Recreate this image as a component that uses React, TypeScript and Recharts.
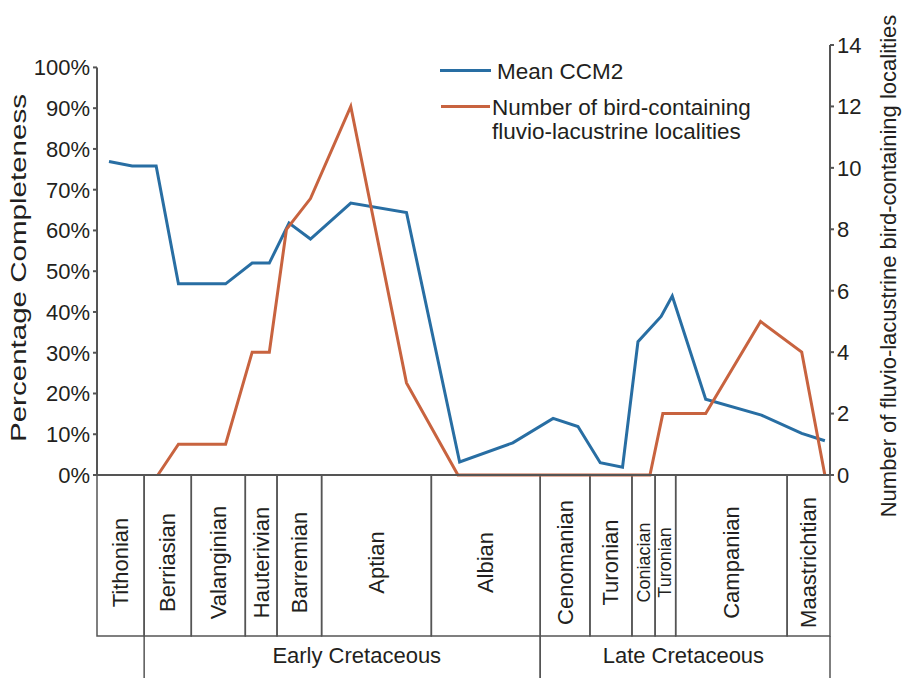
import React from 'react';
import {
  LineChart,
  Line,
  XAxis,
  YAxis,
  ReferenceArea,
  ReferenceLine,
  Legend,
} from 'recharts';

// Mean CCM2 (percentage completeness) through time, ages in Ma
const ccmAges = [149.6, 146.9, 144.1, 141.5, 136.0, 132.9, 130.9, 128.6, 126.1, 121.4, 114.9, 108.7, 102.5, 97.8, 94.9, 92.3, 89.7, 87.9, 85.2, 83.9, 80.0, 73.5, 68.8, 66.1];
const ccmPercent = [76.9, 75.8, 75.8, 46.9, 46.9, 52, 52, 61.8, 57.9, 66.7, 64.4, 3.2, 7.9, 13.9, 11.9, 3.0, 1.9, 32.7, 38.9, 43.9, 18.6, 14.7, 10.2, 8.4];

// Number of bird-containing fluvio-lacustrine localities, ages in Ma
const localityAges = [143.9, 141.5, 136.0, 132.9, 130.9, 128.9, 126.1, 121.4, 114.9, 108.9, 86.5, 85.0, 80.0, 73.6, 68.8, 66.1];
const localityCounts = [0, 1, 1, 4, 4, 8, 9, 12, 3, 0, 0, 2, 2, 5, 4, 0];

// Stratigraphic stages (boundaries in Ma, oldest first)
const stageNames = ['Tithonian', 'Berriasian', 'Valanginian', 'Hauterivian', 'Barremian', 'Aptian', 'Albian', 'Cenomanian', 'Turonian', 'Coniacian', 'Turonian', 'Campanian', 'Maastrichtian'];
const stageBounds = [151, 145.5, 140.0, 133.7, 130.0, 124.8, 112.0, 99.3, 93.5, 88.6, 85.9, 83.5, 70.5, 65.5];

// Epochs
const epochNames = ['Early Cretaceous', 'Late Cretaceous'];
const epochStart = [145.5, 99.3];
const epochEnd = [99.3, 65.5];
const epochLabelAge = [120.7, 82.6];

const percentTicks = [0, 0.1, 0.2, 0.3, 0.4, 0.5, 0.6, 0.7, 0.8, 0.9, 1];
const countTicks = [0, 2, 4, 6, 8, 10, 12, 14];

const ccmData = ccmAges.map((age, i) => ({ age, ccm: ccmPercent[i] / 100 }));
const localityData = localityAges.map((age, i) => ({ age, localities: localityCounts[i] }));

const FONT = '"Liberation Sans", Arial, Helvetica, sans-serif';
const BLUE = '#286ea3';
const RED = '#c8633f';
const AXIS = '#555555';
const TEXT = '#231f20';
const STAGE_ROW = 161;
const EPOCH_ROW = 42;

const StageCell = (props: any) => {
  const { x, y, width, height, name } = props;
  const top = y + height;
  const cx = x + width / 2;
  const cy = top + STAGE_ROW / 2 + 7;
  const small = width < 30;
  return (
    <g>
      <rect x={x} y={top} width={width} height={STAGE_ROW} fill="none" stroke={AXIS} strokeWidth={1.5} />
      <text
        x={cx}
        y={cy}
        transform={`rotate(-90 ${cx} ${cy})`}
        textAnchor="middle"
        dominantBaseline="central"
        fontSize={small ? 18 : 22}
        fill={TEXT}
      >
        {name}
      </text>
    </g>
  );
};

const EpochCell = (props: any) => {
  const { x, y, width, height, name, fraction } = props;
  const top = y + height + STAGE_ROW;
  const labelX = x + width * fraction;
  return (
    <g>
      <line x1={x} x2={x} y1={top} y2={top + EPOCH_ROW} stroke={AXIS} strokeWidth={1.5} />
      <line x1={x + width} x2={x + width} y1={top} y2={top + EPOCH_ROW} stroke={AXIS} strokeWidth={1.5} />
      <text x={labelX} y={top + 19.5} textAnchor="middle" dominantBaseline="central" fontSize={22} fill={TEXT}>
        {name}
      </text>
    </g>
  );
};

const LeftTitle = (props: any) => {
  const { viewBox } = props;
  const cx = viewBox.x + 18;
  const cy = viewBox.y + viewBox.height / 2 + 8;
  return (
    <text
      x={cx}
      y={cy}
      transform={`rotate(-90 ${cx} ${cy})`}
      textAnchor="middle"
      dominantBaseline="central"
      fontSize={22}
      fill={TEXT}
      textLength={348}
      lengthAdjust="spacingAndGlyphs"
    >
      Percentage Completeness
    </text>
  );
};

const RightTitle = (props: any) => {
  const { viewBox } = props;
  const cx = viewBox.x + viewBox.width - 16;
  const cy = viewBox.y + viewBox.height / 2 + 6;
  return (
    <text
      x={cx}
      y={cy}
      transform={`rotate(-90 ${cx} ${cy})`}
      textAnchor="middle"
      dominantBaseline="central"
      fontSize={22}
      fill={TEXT}
    >
      Number of fluvio-lacustrine bird-containing localities
    </text>
  );
};

const legendRows = [
  { lineLeft: 440, lineWidth: 51, lineTop: 68.5, textLeft: 497, textTop: 60 },
  { lineLeft: 441, lineWidth: 49, lineTop: 105, textLeft: 492, textTop: 96 },
];

const LegendBlock = (props: any) => {
  const payload = props.payload || [];
  return (
    <div style={{ position: 'relative', width: 904, height: 0, fontFamily: FONT, textAlign: 'left' }}>
      {payload.map((entry: any, i: number) => {
        const row = legendRows[i];
        if (!row) return null;
        return (
          <React.Fragment key={entry.value}>
            <div
              style={{
                position: 'absolute',
                left: row.lineLeft,
                top: row.lineTop,
                width: row.lineWidth,
                height: 3,
                background: entry.color,
              }}
            />
            <div
              style={{
                position: 'absolute',
                left: row.textLeft,
                top: row.textTop,
                width: 272,
                fontSize: 22.5,
                lineHeight: '24px',
                color: TEXT,
              }}
            >
              {entry.value}
            </div>
          </React.Fragment>
        );
      })}
    </div>
  );
};

export default function App() {
  return (
    <div style={{ position: 'absolute', left: 0, top: 0, width: 904, height: 678, background: '#fff', fontFamily: FONT }}>
      <LineChart width={904} height={678} margin={{ top: 45, right: 0, bottom: 202, left: 0 }}>
        <XAxis
          type="number"
          dataKey="age"
          domain={[65.5, 151]}
          reversed
          ticks={[]}
          tick={false}
          tickLine={false}
          height={1}
          axisLine={{ stroke: AXIS, strokeWidth: 2 }}
        />
        <YAxis
          yAxisId="pct"
          orientation="left"
          width={97}
          domain={[0, 1.055]}
          ticks={percentTicks}
          tickFormatter={(v: number) => `${Math.round(v * 100)}%`}
          axisLine={false}
          tickLine={{ stroke: AXIS, strokeWidth: 2 }}
          tickSize={4}
          tickMargin={3}
          tick={{ fill: TEXT, fontSize: 22 }}
          label={(p: any) => <LeftTitle {...p} />}
        />
        <YAxis
          yAxisId="count"
          orientation="right"
          width={74}
          domain={[0, 14]}
          ticks={countTicks}
          axisLine={{ stroke: AXIS, strokeWidth: 2 }}
          tickLine={{ stroke: AXIS, strokeWidth: 2 }}
          tickSize={4}
          tickMargin={3}
          tick={{ fill: TEXT, fontSize: 22 }}
          label={(p: any) => <RightTitle {...p} />}
        />

        {stageNames.map((name, i) => (
          <ReferenceArea
            key={`stage-${i}`}
            yAxisId="count"
            x1={stageBounds[i]}
            x2={stageBounds[i + 1]}
            ifOverflow="visible"
            shape={(p: any) => <StageCell {...p} name={name} />}
          />
        ))}
        {epochNames.map((name, i) => (
          <ReferenceArea
            key={`epoch-${i}`}
            yAxisId="count"
            x1={epochStart[i]}
            x2={epochEnd[i]}
            ifOverflow="visible"
            shape={(p: any) => (
              <EpochCell
                {...p}
                name={name}
                fraction={(epochStart[i] - epochLabelAge[i]) / (epochStart[i] - epochEnd[i])}
              />
            )}
          />
        ))}

        <ReferenceLine
          yAxisId="pct"
          segment={[{ x: 151, y: 0 }, { x: 151, y: 1 }]}
          stroke={AXIS}
          strokeWidth={2}
          ifOverflow="visible"
        />

        <Line
          yAxisId="pct"
          data={ccmData}
          dataKey="ccm"
          name="Mean CCM2"
          type="linear"
          stroke={BLUE}
          strokeWidth={3}
          dot={false}
          activeDot={false}
          isAnimationActive={false}
        />
        <Line
          yAxisId="count"
          data={localityData}
          dataKey="localities"
          name="Number of bird-containing fluvio-lacustrine localities"
          type="linear"
          stroke={RED}
          strokeWidth={3}
          dot={false}
          activeDot={false}
          isAnimationActive={false}
        />

        <Legend
          layout="vertical"
          align="center"
          verticalAlign="middle"
          content={(p: any) => <LegendBlock {...p} />}
          wrapperStyle={{ left: 0, top: 0, width: 904, height: 0 }}
        />
      </LineChart>
    </div>
  );
}
